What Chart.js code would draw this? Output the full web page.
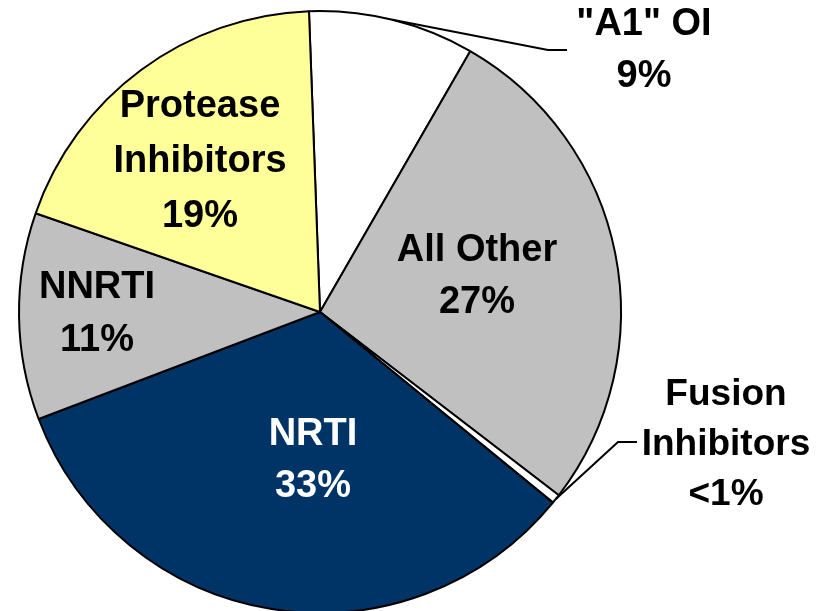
<!DOCTYPE html>
<html>
<head>
<meta charset="utf-8">
<script src="https://cdn.jsdelivr.net/npm/chart.js@4"></script>
<style>
  html, body { margin: 0; padding: 0; background: #ffffff; overflow: hidden; }
  #c { display: block; }
</style>
</head>
<body>
<canvas id="c" width="822" height="624"></canvas>
<script>
// ---- data ----
const categories = ['"A1" OI', 'All Other', 'Fusion Inhibitors', 'NRTI', 'NNRTI', 'Protease Inhibitors'];
const shares = [8.9, 27.1, 0.5, 33.3, 11.1, 19.1];
const shareLabels = ['9%', '27%', '<1%', '33%', '11%', '19%'];
const nameLines = [['"A1" OI'], ['All Other'], ['Fusion', 'Inhibitors'], ['NRTI'], ['NNRTI'], ['Protease', 'Inhibitors']];

// ---- styling ----
const sliceColors = ['#FFFFFF', '#C0C0C0', '#FFFFFF', '#003366', '#C0C0C0', '#FFFF99'];
const R = 301;
// label placement (offsets from the pie centre, px at R=301): x centre, first baseline, line step, font, colour
const labelStyle = [
  { dx: 324, dy: -277, step: 52, size: 38, color: '#000' },
  { dx: 157, dy: -51,  step: 52, size: 38, color: '#000' },
  { dx: 406, dy: 93,   step: 50, size: 37, color: '#000' },
  { dx: -7,  dy: 133,  step: 52, size: 38, color: '#fff' },
  { dx: -223,dy: -14,  step: 53, size: 38, color: '#000' },
  { dx: -120,dy: -195, step: 55, size: 38, color: '#000' }
];
// leader lines: elbow and end offsets from centre
const leaders = {
  0: { elbow: [228, -262], end: [247, -262] },
  2: { elbow: [298, 130],  end: [317, 130] }
};

const labelPlugin = {
  id: 'sliceLabels',
  afterDatasetsDraw(chart) {
    const ctx = chart.ctx;
    const meta = chart.getDatasetMeta(0);
    const a0 = meta.data[0];
    const cx = a0.x, cy = a0.y;
    const k = a0.outerRadius / R;
    ctx.save();
    // leader lines
    ctx.strokeStyle = '#000';
    ctx.lineWidth = 2;
    Object.keys(leaders).forEach(i => {
      const arc = meta.data[i];
      const mid = (arc.startAngle + arc.endAngle) / 2;
      const sx = cx + arc.outerRadius * Math.cos(mid);
      const sy = cy + arc.outerRadius * Math.sin(mid);
      const L = leaders[i];
      ctx.beginPath();
      ctx.moveTo(sx, sy);
      ctx.lineTo(cx + L.elbow[0] * k, cy + L.elbow[1] * k);
      ctx.lineTo(cx + L.end[0] * k, cy + L.end[1] * k);
      ctx.stroke();
    });
    // text
    ctx.textAlign = 'center';
    ctx.textBaseline = 'alphabetic';
    categories.forEach((c, i) => {
      const s = labelStyle[i];
      const lines = nameLines[i].concat([shareLabels[i]]);
      ctx.fillStyle = s.color;
      ctx.font = 'bold ' + s.size + 'px "Liberation Sans", Arial, sans-serif';
      lines.forEach((t, j) => {
        ctx.fillText(t, cx + s.dx * k, cy + s.dy * k + j * s.step);
      });
    });
    ctx.restore();
  }
};

new Chart(document.getElementById('c'), {
  type: 'pie',
  data: {
    labels: categories,
    datasets: [{
      data: shares,
      backgroundColor: sliceColors,
      borderColor: '#000000',
      borderWidth: 2,
      radius: R
    }]
  },
  options: {
    responsive: false,
    animation: false,
    rotation: -2.1,
    layout: { padding: { left: 0, right: 182, top: 0, bottom: 0 } },
    events: [],
    plugins: {
      legend: { display: false },
      tooltip: { enabled: false }
    }
  },
  plugins: [labelPlugin]
});
</script>
</body>
</html>
